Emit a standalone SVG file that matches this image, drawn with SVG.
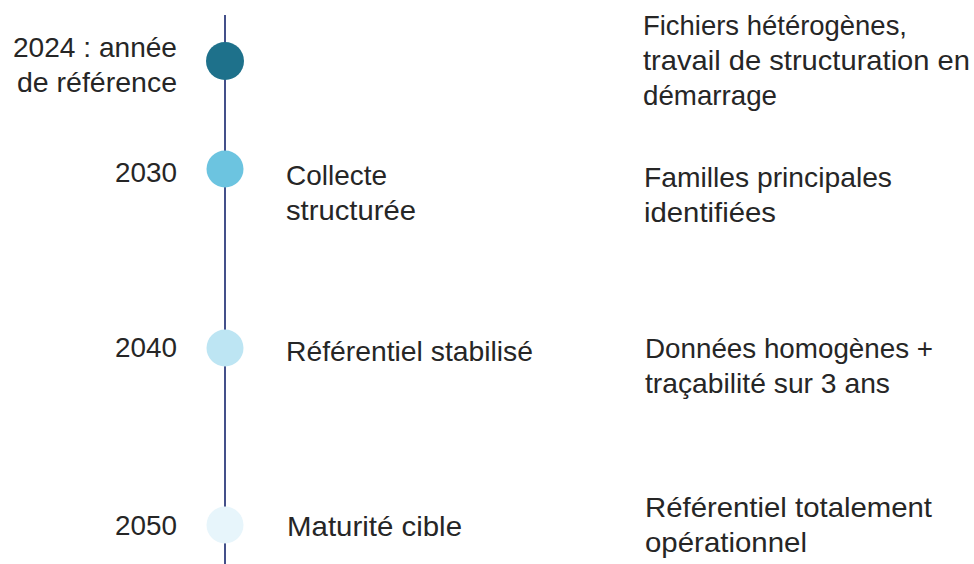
<svg xmlns="http://www.w3.org/2000/svg" width="974" height="564" viewBox="0 0 974 564">
<style>
text{font-family:"Liberation Sans",Arial,sans-serif;font-size:28px;fill:#262626}
.r{text-anchor:end}
.axis{stroke:#44508a;stroke-width:2;fill:none}
</style>
<rect width="974" height="564" fill="#ffffff"/>
<g id="connectors">
<line class="axis" x1="225" y1="15" x2="225" y2="564"/>
</g>
<g id="node-2024">
<circle cx="225" cy="61" r="19" fill="#1e718b"/>
<text class="r" x="177" y="57" textLength="164" lengthAdjust="spacingAndGlyphs">2024 : année</text>
<text class="r" x="177" y="92" textLength="160" lengthAdjust="spacingAndGlyphs">de référence</text>
<text x="643" y="35" textLength="264" lengthAdjust="spacingAndGlyphs">Fichiers hétérogènes,</text>
<text x="643" y="70" textLength="327" lengthAdjust="spacingAndGlyphs">travail de structuration en</text>
<text x="643" y="105" textLength="134" lengthAdjust="spacingAndGlyphs">démarrage</text>
</g>
<g id="node-2030">
<circle cx="225" cy="169" r="18.5" fill="#6cc4e0"/>
<text class="r" x="177" y="182" textLength="62" lengthAdjust="spacingAndGlyphs">2030</text>
<text x="286" y="185" textLength="101" lengthAdjust="spacingAndGlyphs">Collecte</text>
<text x="286" y="220" textLength="130" lengthAdjust="spacingAndGlyphs">structurée</text>
<text x="644" y="187" textLength="248" lengthAdjust="spacingAndGlyphs">Familles principales</text>
<text x="644" y="222" textLength="132" lengthAdjust="spacingAndGlyphs">identifiées</text>
</g>
<g id="node-2040">
<circle cx="225" cy="348" r="18.5" fill="#bde5f3"/>
<text class="r" x="177" y="357" textLength="62" lengthAdjust="spacingAndGlyphs">2040</text>
<text x="286" y="361" textLength="247" lengthAdjust="spacingAndGlyphs">Référentiel stabilisé</text>
<text x="645" y="358" textLength="288" lengthAdjust="spacingAndGlyphs">Données homogènes +</text>
<text x="645" y="393" textLength="245" lengthAdjust="spacingAndGlyphs">traçabilité sur 3 ans</text>
</g>
<g id="node-2050">
<circle cx="225" cy="525" r="18.5" fill="#e7f5fb"/>
<text class="r" x="177" y="535" textLength="62" lengthAdjust="spacingAndGlyphs">2050</text>
<text x="287" y="536" textLength="175" lengthAdjust="spacingAndGlyphs">Maturité cible</text>
<text x="645" y="517" textLength="287" lengthAdjust="spacingAndGlyphs">Référentiel totalement</text>
<text x="645" y="552" textLength="162" lengthAdjust="spacingAndGlyphs">opérationnel</text>
</g>
</svg>
